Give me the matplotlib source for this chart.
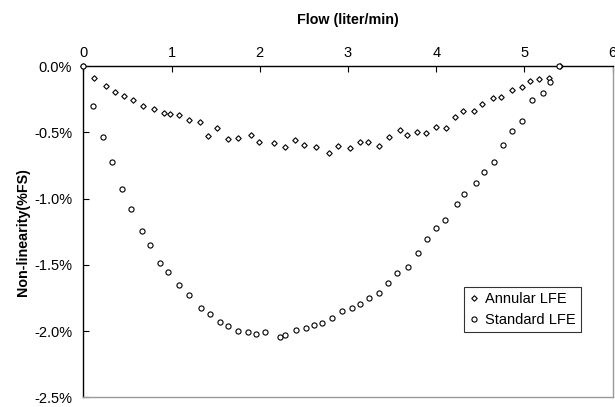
import matplotlib
matplotlib.use("Agg")
import matplotlib.pyplot as plt
from matplotlib.ticker import FuncFormatter

plt.rcParams['font.family'] = ['Liberation Sans', 'DejaVu Sans']

# Annular LFE (diamonds)
annular_x = [0.0, 0.121, 0.253, 0.355, 0.457, 0.563, 0.672, 0.804, 0.917, 0.985,
             1.083, 1.193, 1.325, 1.408, 1.517, 1.642, 1.755, 1.896, 1.99, 2.16,
             2.281, 2.401, 2.496, 2.635, 2.786, 2.89, 3.02, 3.133, 3.23, 3.352,
             3.462, 3.59, 3.669, 3.779, 3.889, 3.994, 4.107, 4.213, 4.308, 4.428,
             4.523, 4.647, 4.738, 4.858, 4.971, 5.066, 5.168, 5.274, 5.4]
annular_y = [0.0, -0.09, -0.15, -0.193, -0.226, -0.254, -0.304, -0.321, -0.354, -0.361,
             -0.371, -0.407, -0.424, -0.527, -0.469, -0.55, -0.547, -0.517, -0.57, -0.582,
             -0.61, -0.562, -0.593, -0.612, -0.657, -0.60, -0.62, -0.57, -0.57, -0.605,
             -0.532, -0.484, -0.522, -0.50, -0.505, -0.457, -0.469, -0.386, -0.341, -0.339,
             -0.284, -0.239, -0.236, -0.183, -0.156, -0.113, -0.098, -0.093, 0.0]

# Standard LFE (circles)
standard_x = [0.0, 0.11, 0.227, 0.321, 0.442, 0.54, 0.661, 0.759, 0.869, 0.959,
              1.084, 1.193, 1.336, 1.438, 1.548, 1.642, 1.755, 1.865, 1.959, 2.058,
              2.231, 2.284, 2.405, 2.525, 2.616, 2.703, 2.813, 2.93, 3.05, 3.137,
              3.239, 3.349, 3.454, 3.556, 3.681, 3.79, 3.892, 3.998, 4.104, 4.232,
              4.319, 4.447, 4.538, 4.651, 4.753, 4.862, 4.971, 5.085, 5.214, 5.289, 5.39]
standard_y = [0.0, -0.301, -0.537, -0.725, -0.931, -1.077, -1.245, -1.35, -1.49, -1.551,
              -1.651, -1.73, -1.825, -1.875, -1.93, -1.965, -1.998, -2.011, -2.02, -2.005,
              -2.046, -2.028, -1.993, -1.98, -1.958, -1.94, -1.898, -1.85, -1.825, -1.795,
              -1.75, -1.715, -1.636, -1.561, -1.514, -1.408, -1.303, -1.225, -1.16, -1.041,
              -0.966, -0.883, -0.798, -0.728, -0.597, -0.492, -0.417, -0.258, -0.206, -0.12, 0.0]

x_ticks = [0, 1, 2, 3, 4, 5, 6]
y_ticks = [0.0, -0.5, -1.0, -1.5, -2.0, -2.5]

fig = plt.figure(figsize=(6.15, 4.07), dpi=100)
ax = fig.add_axes([83.3/615, 1 - 397.3/407, (612.7 - 83.3)/615, (397.3 - 66)/407])

ax.plot(annular_x, annular_y, linestyle='none', marker='D', markersize=2.8,
        markerfacecolor='white', markeredgecolor='black', markeredgewidth=0.8,
        label='Annular LFE', clip_on=False, zorder=3)
ax.plot(standard_x, standard_y, linestyle='none', marker='o', markersize=3.7,
        markerfacecolor='white', markeredgecolor='black', markeredgewidth=0.8,
        label='Standard LFE', clip_on=False, zorder=3)

ax.set_xlim(0, 6)
ax.set_ylim(-2.5, 0.0)
ax.set_xticks(x_ticks)
ax.set_yticks(y_ticks)
ax.yaxis.set_major_formatter(FuncFormatter(lambda v, p: f"{v:.1f}%"))

ax.xaxis.tick_top()
ax.xaxis.set_label_position('top')
ax.tick_params(axis='x', direction='in', length=4, width=0.8, labelsize=10.5, pad=4, colors='black')
ax.tick_params(axis='y', direction='in', length=4, width=0.8, labelsize=10.5, pad=8)

ax.spines['top'].set_color('black')
ax.spines['left'].set_color('black')
ax.spines['top'].set_linewidth(1.0)
ax.spines['left'].set_linewidth(1.0)
ax.spines['right'].set_color('#9a9a9a')
ax.spines['bottom'].set_color('#9a9a9a')
ax.spines['right'].set_linewidth(1.0)
ax.spines['bottom'].set_linewidth(1.0)

ax.set_xlabel('Flow (liter/min)', fontsize=10.3, fontweight='bold', labelpad=16)
ax.set_ylabel('Non-linearity(%FS)', fontsize=10.3, fontweight='bold', labelpad=3)

leg = ax.legend(loc='upper left', bbox_to_anchor=(0.719, 0.333), fontsize=10.5,
                frameon=True, fancybox=False, handlelength=0.7, handletextpad=0.4,
                borderpad=0.35, labelspacing=0.45, borderaxespad=0)
leg.get_frame().set_edgecolor('black')
leg.get_frame().set_linewidth(0.8)

fig.savefig('out.png', dpi=100)
